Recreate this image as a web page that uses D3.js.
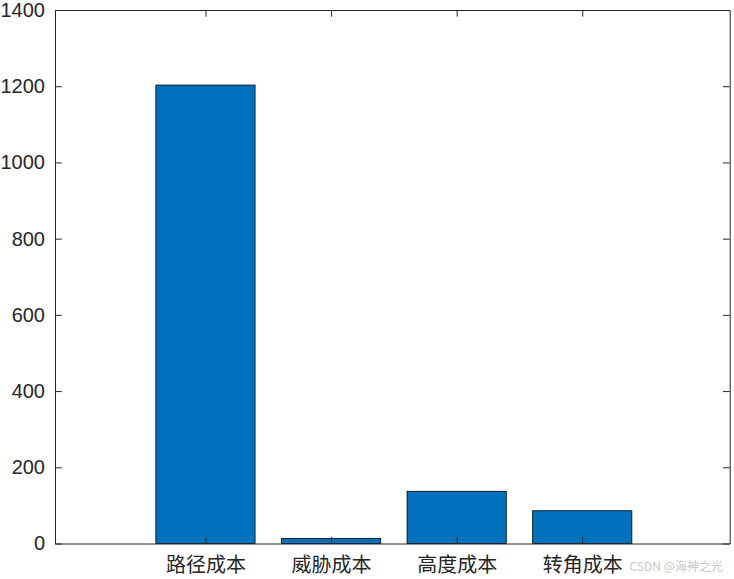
<!DOCTYPE html>
<html>
<head>
<meta charset="utf-8">
<script src="https://cdn.jsdelivr.net/npm/d3@7"></script>
<style>
  body { margin: 0; background: #fff; }
  svg { display: block; }
  .tick text { fill: #262626; }
  .num-axis text { font-family: "Liberation Sans", Arial, sans-serif; font-size: 20px; }
  .cat-axis text { font-family: "Noto Sans CJK SC", sans-serif; font-size: 20px; }
</style>
</head>
<body>
<div id="chart-area"><svg></svg></div>
<script>
const categories = ['路径成本', '威胁成本', '高度成本', '转角成本'];
const costValues = [1203, 13, 137, 86];
const yTicks = [0, 200, 400, 600, 800, 1000, 1200, 1400];

const chartSize = { width: 734, height: 579 };
const margin = { left: 55, right: 4.3, top: 10, bottom: 35.5 };
const width = chartSize.width - margin.left - margin.right;
const height = chartSize.height - margin.top - margin.bottom;

const axisColor = '#262626';

const drawChart = () => {
    const svg = d3.select('#chart-area svg')
        .attr('width', chartSize.width)
        .attr('height', chartSize.height);

    const g = svg.append('g')
        .attr('transform', `translate(${margin.left},${margin.top})`);

    // category positions 1..4, axis limits as in the figure
    const x = d3.scaleLinear()
        .domain([-0.198, 5.174])
        .range([0, width]);
    const unit = x(1) - x(0);
    const barWidth = unit * 0.79;

    const y = d3.scaleLinear()
        .domain([0, 1400])
        .range([height, 0]);

    g.selectAll('.bar')
        .data(costValues)
        .enter()
        .append('rect')
        .attr('class', 'bar')
        .attr('x', (d, i) => x(i + 1) - barWidth / 2)
        .attr('y', d => y(d))
        .attr('width', barWidth)
        .attr('height', d => y(0) - y(d))
        .attr('fill', '#0072BD')
        .attr('stroke', '#000')
        .attr('stroke-width', 0.8);

    const tickLen = 6.7;
    const catIdx = categories.map((c, i) => i + 1);

    const xBottom = d3.axisBottom(x)
        .tickValues(catIdx)
        .tickFormat(i => categories[i - 1])
        .tickSize(-tickLen)
        .tickPadding(14)
        .tickSizeOuter(0);
    const xTop = d3.axisTop(x)
        .tickValues(catIdx)
        .tickFormat('')
        .tickSize(-tickLen)
        .tickSizeOuter(0);
    const yLeft = d3.axisLeft(y)
        .tickValues(yTicks)
        .tickFormat(d3.format('d'))
        .tickSize(-tickLen)
        .tickPadding(10)
        .tickSizeOuter(0);
    const yRight = d3.axisRight(y)
        .tickValues(yTicks)
        .tickFormat('')
        .tickSize(-tickLen)
        .tickSizeOuter(0);

    g.append('g').attr('class', 'cat-axis')
        .attr('transform', `translate(0,${height})`)
        .call(xBottom);
    g.append('g').call(xTop);
    g.append('g').attr('class', 'num-axis').call(yLeft);
    g.append('g').attr('transform', `translate(${width},0)`).call(yRight);

    g.selectAll('.domain, .tick line')
        .attr('stroke', axisColor)
        .attr('stroke-width', 1);

    // watermark
    svg.append('text')
        .attr('x', 723)
        .attr('y', 571)
        .attr('text-anchor', 'end')
        .attr('font-family', '"Noto Sans CJK SC", sans-serif')
        .attr('font-size', 12)
        .attr('fill', '#c8c8c8')
        .text('CSDN @海神之光');
};

window.onload = drawChart;
</script>
</body>
</html>
